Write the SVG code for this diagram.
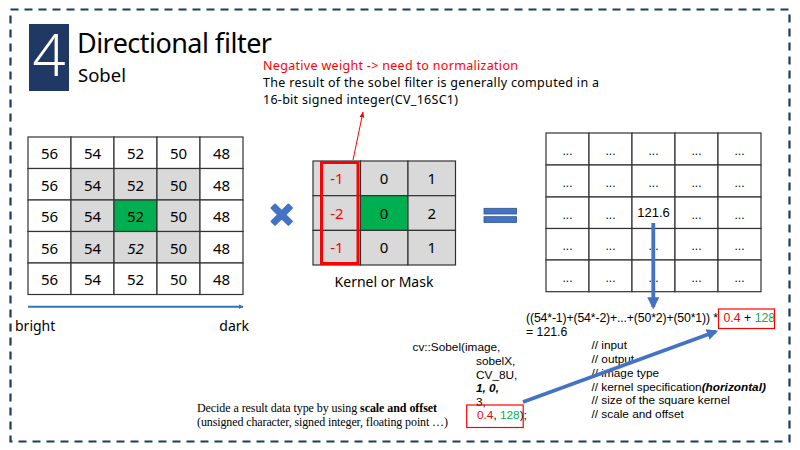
<svg xmlns="http://www.w3.org/2000/svg" width="800" height="450" viewBox="0 0 800 450">
<defs>
<style>
.t{font-family:"Noto Sans","Liberation Sans",sans-serif;fill:#000}
.num{font-family:"Noto Sans","Liberation Sans",sans-serif;font-size:15px;text-anchor:middle;fill:#000}
.dots{font-family:"Liberation Sans",sans-serif;font-size:12px;text-anchor:middle;fill:#000}
.cell{fill:#fff;stroke:#333;stroke-width:1.2}
.gray{fill:#d9d9d9;stroke:#333;stroke-width:1.2}
.green{fill:#00b050;stroke:#333;stroke-width:1.2}
.serif{font-family:"Liberation Serif","Times New Roman",serif;font-size:12px;fill:#000}
.code{font-family:"Liberation Sans",Arial,sans-serif;font-size:11.8px;fill:#000}
.fm{font-family:"Liberation Sans",Arial,sans-serif;font-size:12.3px;fill:#000}
.red{fill:#ff0000}
.grn{fill:#00b050}
</style>
<marker id="ah" viewBox="0 0 10 10" refX="9" refY="5" markerWidth="5" markerHeight="5" orient="auto" markerUnits="userSpaceOnUse">
<path d="M0,0 L10,5 L0,10 z" fill="#2e75b6"/>
</marker>
<marker id="ahb" viewBox="0 0 10 10" refX="8" refY="5" markerWidth="3.2" markerHeight="3.2" orient="auto">
<path d="M0,0 L10,5 L0,10 z" fill="#4472c4"/>
</marker>
<marker id="ahr" viewBox="0 0 10 10" refX="9" refY="5" markerWidth="6" markerHeight="6" orient="auto" markerUnits="userSpaceOnUse">
<path d="M0,1 L10,5 L0,9 z" fill="#ff0000"/>
</marker>
</defs>
<rect x="0" y="0" width="800" height="450" fill="#fff"/>
<rect x="10.5" y="9.5" width="779" height="432" fill="none" stroke="#1f3864" stroke-width="2.2" stroke-dasharray="8,6"/>

<g id="title">
<rect x="29" y="24" width="40" height="67" fill="#203864"/>
<text x="49" y="76" font-family="Noto Sans,Liberation Sans,sans-serif" font-size="58" fill="#fff" text-anchor="middle" font-weight="300">4</text>
<text class="t" x="77" y="53" font-size="27" textLength="195">Directional filter</text>
<text class="t" x="78" y="82" font-size="18.5">Sobel</text>
</g>

<g id="note">
<text class="t red" x="263" y="70" font-size="12.5" textLength="255">Negative weight -&gt; need to normalization</text>
<text class="t" x="263" y="87" font-size="12.5" textLength="336">The result of the sobel filter is generally computed in a</text>
<text class="t" x="263" y="104" font-size="12.5" textLength="195">16-bit signed integer(CV_16SC1)</text>
</g>

<g id="input-image">
<rect class="cell" x="28" y="137" width="43" height="31.5"/><rect class="cell" x="71" y="137" width="43" height="31.5"/><rect class="cell" x="114" y="137" width="43" height="31.5"/><rect class="cell" x="157" y="137" width="43" height="31.5"/><rect class="cell" x="200" y="137" width="43" height="31.5"/>
<rect class="cell" x="28" y="168.5" width="43" height="31.5"/><rect class="gray" x="71" y="168.5" width="43" height="31.5"/><rect class="gray" x="114" y="168.5" width="43" height="31.5"/><rect class="gray" x="157" y="168.5" width="43" height="31.5"/><rect class="cell" x="200" y="168.5" width="43" height="31.5"/>
<rect class="cell" x="28" y="200" width="43" height="31.5"/><rect class="gray" x="71" y="200" width="43" height="31.5"/><rect class="green" x="114" y="200" width="43" height="31.5"/><rect class="gray" x="157" y="200" width="43" height="31.5"/><rect class="cell" x="200" y="200" width="43" height="31.5"/>
<rect class="cell" x="28" y="231.5" width="43" height="31.5"/><rect class="gray" x="71" y="231.5" width="43" height="31.5"/><rect class="gray" x="114" y="231.5" width="43" height="31.5"/><rect class="gray" x="157" y="231.5" width="43" height="31.5"/><rect class="cell" x="200" y="231.5" width="43" height="31.5"/>
<rect class="cell" x="28" y="263" width="43" height="31.5"/><rect class="cell" x="71" y="263" width="43" height="31.5"/><rect class="cell" x="114" y="263" width="43" height="31.5"/><rect class="cell" x="157" y="263" width="43" height="31.5"/><rect class="cell" x="200" y="263" width="43" height="31.5"/>
<text class="num" x="49.5" y="159">56</text><text class="num" x="92.5" y="159">54</text><text class="num" x="135.5" y="159">52</text><text class="num" x="178.5" y="159">50</text><text class="num" x="221.5" y="159">48</text>
<text class="num" x="49.5" y="190.5">56</text><text class="num" x="92.5" y="190.5">54</text><text class="num" x="135.5" y="190.5">52</text><text class="num" x="178.5" y="190.5">50</text><text class="num" x="221.5" y="190.5">48</text>
<text class="num" x="49.5" y="222">56</text><text class="num" x="92.5" y="222">54</text><text class="num" x="135.5" y="222">52</text><text class="num" x="178.5" y="222">50</text><text class="num" x="221.5" y="222">48</text>
<text class="num" x="49.5" y="253.5">56</text><text class="num" x="92.5" y="253.5">54</text><text class="num" x="135.5" y="253.5" font-style="italic">52</text><text class="num" x="178.5" y="253.5">50</text><text class="num" x="221.5" y="253.5">48</text>
<text class="num" x="49.5" y="285">56</text><text class="num" x="92.5" y="285">54</text><text class="num" x="135.5" y="285">52</text><text class="num" x="178.5" y="285">50</text><text class="num" x="221.5" y="285">48</text>
</g>

<g id="gradient-label">
<text class="t" x="15" y="331" font-size="14">bright</text>
<text class="t" x="249" y="331" font-size="14" text-anchor="end">dark</text>
</g>

<g id="multiply">
<path d="M271.5,208 L275,204.5 L281.7,211.2 L288.4,204.5 L291.9,208 L285.2,214.7 L291.9,221.4 L288.4,224.9 L281.7,218.2 L275,224.9 L271.5,221.4 L278.2,214.7 z" fill="#4472c4" stroke="#4472c4" stroke-width="2" stroke-linejoin="round"/>
</g>

<g id="kernel">
<rect class="gray" x="313" y="161" width="47.5" height="34.7"/><rect class="gray" x="360.5" y="161" width="47.5" height="34.7"/><rect class="gray" x="408" y="161" width="47.5" height="34.7"/>
<rect class="gray" x="313" y="195.7" width="47.5" height="34.7"/><rect class="green" x="360.5" y="195.7" width="47.5" height="34.7"/><rect class="gray" x="408" y="195.7" width="47.5" height="34.7"/>
<rect class="gray" x="313" y="230.4" width="47.5" height="34.6"/><rect class="gray" x="360.5" y="230.4" width="47.5" height="34.6"/><rect class="gray" x="408" y="230.4" width="47.5" height="34.6"/>
<rect x="321.5" y="162.5" width="36.5" height="101" fill="none" stroke="#ff0000" stroke-width="3"/>
<text class="num red" x="337" y="184" font-size="14">-1</text><text class="num" x="384" y="184" font-size="14">0</text><text class="num" x="431.7" y="184" font-size="14">1</text>
<text class="num red" x="337" y="218.5" font-size="14">-2</text><text class="num" x="384" y="218.5" font-size="14">0</text><text class="num" x="431.7" y="218.5" font-size="14">2</text>
<text class="num red" x="337" y="253" font-size="14">-1</text><text class="num" x="384" y="253" font-size="14">0</text><text class="num" x="431.7" y="253" font-size="14">1</text>
<text class="t" x="384" y="287" font-size="14" text-anchor="middle">Kernel or Mask</text>
</g>

<g id="equals">
<rect x="484" y="208.3" width="32.5" height="5.7" fill="#4472c4" stroke="#2f528f" stroke-width="0.8"/>
<rect x="484" y="216.7" width="32.5" height="5.7" fill="#4472c4" stroke="#2f528f" stroke-width="0.8"/>
</g>

<g id="output-image">
<rect class="cell" x="546" y="133" width="43" height="32"/><rect class="cell" x="589" y="133" width="43" height="32"/><rect class="cell" x="632" y="133" width="43" height="32"/><rect class="cell" x="675" y="133" width="43" height="32"/><rect class="cell" x="718" y="133" width="43" height="32"/>
<rect class="cell" x="546" y="165" width="43" height="32"/><rect class="cell" x="589" y="165" width="43" height="32"/><rect class="cell" x="632" y="165" width="43" height="32"/><rect class="cell" x="675" y="165" width="43" height="32"/><rect class="cell" x="718" y="165" width="43" height="32"/>
<rect class="cell" x="546" y="197" width="43" height="31.5"/><rect class="cell" x="589" y="197" width="43" height="31.5"/><rect class="cell" x="632" y="197" width="43" height="31.5"/><rect class="cell" x="675" y="197" width="43" height="31.5"/><rect class="cell" x="718" y="197" width="43" height="31.5"/>
<rect class="cell" x="546" y="228.5" width="43" height="31.5"/><rect class="cell" x="589" y="228.5" width="43" height="31.5"/><rect class="cell" x="632" y="228.5" width="43" height="31.5"/><rect class="cell" x="675" y="228.5" width="43" height="31.5"/><rect class="cell" x="718" y="228.5" width="43" height="31.5"/>
<rect class="cell" x="546" y="260" width="43" height="31.7"/><rect class="cell" x="589" y="260" width="43" height="31.7"/><rect class="cell" x="632" y="260" width="43" height="31.7"/><rect class="cell" x="675" y="260" width="43" height="31.7"/><rect class="cell" x="718" y="260" width="43" height="31.7"/>
<text class="dots" x="567.5" y="155">...</text><text class="dots" x="610.5" y="155">...</text><text class="dots" x="653.5" y="155">...</text><text class="dots" x="696.5" y="155">...</text><text class="dots" x="739.5" y="155">...</text>
<text class="dots" x="567.5" y="187">...</text><text class="dots" x="610.5" y="187">...</text><text class="dots" x="653.5" y="187">...</text><text class="dots" x="696.5" y="187">...</text><text class="dots" x="739.5" y="187">...</text>
<text class="dots" x="567.5" y="219">...</text><text class="dots" x="610.5" y="219">...</text><text x="653.5" y="217" font-size="13" text-anchor="middle" font-family="Liberation Sans,sans-serif" fill="#000">121.6</text><text class="dots" x="696.5" y="219">...</text><text class="dots" x="739.5" y="219">...</text>
<text class="dots" x="567.5" y="250">...</text><text class="dots" x="610.5" y="250">...</text><text class="dots" x="653.5" y="250">...</text><text class="dots" x="696.5" y="250">...</text><text class="dots" x="739.5" y="250">...</text>
<text class="dots" x="567.5" y="282">...</text><text class="dots" x="610.5" y="282">...</text><text class="dots" x="653.5" y="282">...</text><text class="dots" x="696.5" y="282">...</text><text class="dots" x="739.5" y="282">...</text>
</g>

<g id="formula">
<text class="fm" x="526" y="322" textLength="192">((54*-1)+(54*-2)+...+(50*2)+(50*1)) *</text>
<text class="fm" x="723.5" y="322"><tspan class="red">0.4</tspan> + <tspan class="grn">128</tspan></text>
<text class="fm" x="526" y="336">= 121.6</text>
<rect x="718.5" y="309" width="56" height="19.5" fill="none" stroke="#ff0000" stroke-width="1.2"/>
</g>

<g id="code">
<text class="code" x="412.5" y="351">cv::Sobel(image,</text>
<text class="code" x="476" y="365">sobelX,</text>
<text class="code" x="476" y="378.5">CV_8U,</text>
<text class="code" x="476" y="392" font-weight="bold" font-style="italic">1, 0,</text>
<text class="code" x="476" y="405.5">3,</text>
<text class="code" x="477" y="419"><tspan class="red">0.4</tspan>, <tspan class="grn">128</tspan>);</text>
<rect x="466.7" y="405" width="56.5" height="22.5" fill="none" stroke="#ff0000" stroke-width="1.2"/>
</g>

<g id="comments">
<text class="code" x="591.5" y="349">// input</text>
<text class="code" x="591.5" y="363">// output</text>
<text class="code" x="591.5" y="376.7">// image type</text>
<text class="code" x="591.5" y="390.5">// kernel specification<tspan font-weight="bold" font-style="italic">(horizontal)</tspan></text>
<text class="code" x="591.5" y="404.3">// size of the square kernel</text>
<text class="code" x="591.5" y="418">// scale and offset</text>
</g>

<g id="decide-note">
<text class="serif" x="197" y="412" textLength="240">Decide a result data type by using <tspan font-weight="bold">scale and offset</tspan></text>
<text class="serif" x="197" y="425.5" textLength="251">(unsigned character, signed integer, floating point …)</text>
</g>

<g id="connectors">
<line x1="28" y1="306.7" x2="243" y2="306.7" stroke="#2e75b6" stroke-width="2" marker-end="url(#ah)"/>
<line x1="353" y1="160" x2="363" y2="112" stroke="#ff0000" stroke-width="1" marker-end="url(#ahr)"/>
<line x1="653.3" y1="223" x2="653.3" y2="307" stroke="#4472c4" stroke-width="3.8" marker-end="url(#ahb)"/>
<line x1="523" y1="402" x2="716" y2="331.5" stroke="#4472c4" stroke-width="3.5" marker-end="url(#ahb)"/>
</g>
</svg>
